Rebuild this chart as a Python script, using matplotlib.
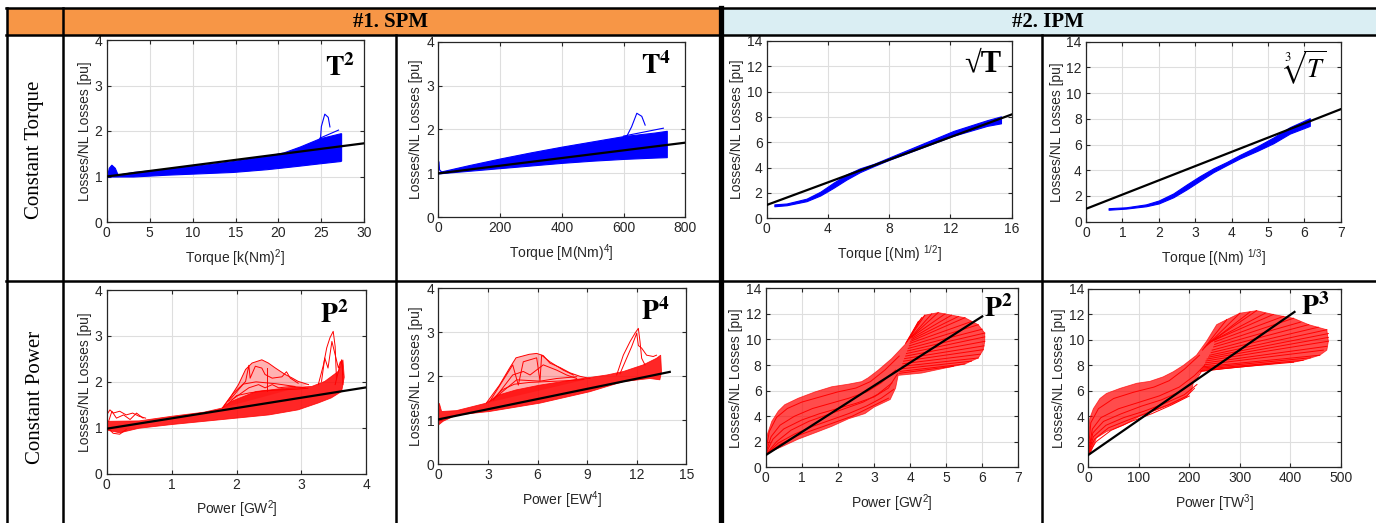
import numpy as np
import matplotlib
matplotlib.use('Agg')
import matplotlib.pyplot as plt
from matplotlib.patches import Rectangle

plt.rcParams['font.family'] = ['Liberation Sans', 'DejaVu Sans']
plt.rcParams['mathtext.fontset'] = 'custom'
plt.rcParams['mathtext.rm'] = 'Liberation Sans'
plt.rcParams['mathtext.it'] = 'Liberation Sans:italic'
plt.rcParams['mathtext.bf'] = 'Liberation Sans:bold'

# ---------------- data ----------------
# SPM, constant torque, T^2
t2_x = [0, 3.1, 7, 10.9, 14.7, 18.6, 20.6, 22.5, 24.8, 27.2, 27.3]
t2_lo = [1.0, 1.0, 1.04, 1.07, 1.1, 1.16, 1.2, 1.24, 1.29, 1.34, 1.35]
t2_hi = [1.0, 1.1, 1.17, 1.25, 1.34, 1.45, 1.53, 1.66, 1.84, 1.95, 1.95]
t2_bump_x = [0.1, 0.3, 0.6, 1.0, 1.4]
t2_bump_y = [1.0, 1.18, 1.25, 1.18, 1.0]
t2_peak_x = [24.9, 25.0, 25.4, 25.8, 26.0]
t2_peak_y = [1.84, 2.1, 2.37, 2.3, 2.09]
t2_tail_x = [24.8, 27.0]
t2_tail_y = [1.84, 2.02]
t2_fit_x = [0, 30]
t2_fit_y = [1.0, 1.73]

# SPM, constant torque, T^4
t4_x = [0, 100, 200, 300, 400, 500, 600, 700, 740]
t4_lo = [1.0, 1.06, 1.12, 1.18, 1.24, 1.29, 1.33, 1.36, 1.37]
t4_hi = [1.03, 1.19, 1.34, 1.48, 1.61, 1.73, 1.85, 1.93, 1.97]
t4_spike_x = [0, 1, 4, 10]
t4_spike_y = [1.0, 1.27, 1.08, 1.04]
t4_peak_x = [610, 626, 643, 659, 670]
t4_peak_y = [1.84, 2.06, 2.37, 2.3, 2.1]
t4_tail_x = [600, 729]
t4_tail_y = [1.85, 2.03]
t4_fit_x = [0, 800]
t4_fit_y = [1.0, 1.7]

# IPM, constant torque, sqrt(T)
sq_x = [0.5, 1.3, 2.6, 3.5, 4.35, 5.2, 6.1, 7.0, 8.0, 10.0, 12.2, 14.4, 15.3]
sq_lo = [0.95, 1.03, 1.35, 1.8, 2.4, 3.05, 3.65, 4.12, 4.62, 5.52, 6.52, 7.3, 7.5]
sq_hi = [1.1, 1.17, 1.55, 2.1, 2.8, 3.45, 3.95, 4.3, 4.8, 5.8, 6.9, 7.75, 8.05]
sq_fit_x = [0, 16]
sq_fit_y = [1.05, 8.2]

# IPM, constant torque, cbrt(T)
cb_x = [0.62, 1.1, 1.65, 2.0, 2.4, 2.77, 3.13, 3.5, 3.87, 4.23, 4.7, 5.15, 5.6, 6.15]
cb_lo = [0.93, 1.02, 1.2, 1.42, 1.9, 2.52, 3.18, 3.85, 4.4, 4.92, 5.5, 6.1, 6.85, 7.45]
cb_hi = [1.05, 1.12, 1.35, 1.65, 2.2, 2.9, 3.55, 4.15, 4.65, 5.2, 5.85, 6.55, 7.35, 8.05]
cb_fit_x = [0, 7]
cb_fit_y = [1.0, 8.75]

# SPM, constant power, P^2
p2s_up_x = [0, 0.5, 1.0, 1.5, 1.78, 1.93, 2.3, 2.8, 3.16, 3.36, 3.57, 3.64, 3.66]
p2s_up_y = [1.14, 1.15, 1.25, 1.34, 1.43, 1.58, 1.79, 1.87, 1.9, 2.01, 2.23, 2.48, 2.1]
p2s_lo_x = [0, 0.2, 0.5, 1.0, 1.5, 2.0, 2.5, 2.95, 3.26, 3.46, 3.62, 3.66]
p2s_lo_y = [0.95, 0.89, 0.99, 1.07, 1.14, 1.21, 1.28, 1.39, 1.54, 1.65, 1.79, 2.1]
p2s_line_x = [
    [1.78, 1.93, 2.03, 2.14, 2.24, 2.39, 2.49, 2.6, 2.75, 2.85, 2.95, 3.11],
    [1.88, 2.14, 2.19, 2.21, 2.29, 2.39, 2.44, 2.55, 2.7, 2.77, 2.83, 2.95],
    [1.93, 2.19, 2.34, 2.44, 2.55, 2.65, 2.85, 3.06],
    [1.85, 2.0, 2.2, 2.4, 2.6, 2.9, 3.1],
    [1.8, 1.95, 2.1, 2.3, 2.6, 2.9],
    [2.47, 2.47],
    [3.26, 3.34, 3.39, 3.44, 3.49, 3.52, 3.54],
    [3.31, 3.36, 3.41, 3.47, 3.52, 3.57, 3.6, 3.63, 3.64],
    [3.52, 3.57, 3.62, 3.64],
    [0, 0.05, 0.1, 0.2, 0.3, 0.4, 0.5, 0.6],
    [0.03, 0.08, 0.15, 0.26, 0.36, 0.46, 0.56],
    [0.05, 0.1, 0.2, 0.3],
]
p2s_line_y = [
    [1.43, 1.72, 1.94, 2.27, 2.41, 2.48, 2.41, 2.3, 2.16, 2.09, 2.01, 1.94],
    [1.58, 2.01, 2.36, 2.08, 2.34, 2.3, 2.16, 2.08, 2.11, 2.22, 2.08, 1.97],
    [1.61, 1.87, 1.94, 1.87, 1.94, 1.87, 1.9, 1.87],
    [1.5, 1.7, 1.76, 1.8, 1.82, 1.84, 1.86],
    [1.45, 1.75, 1.95, 2.0, 1.96, 1.9],
    [1.8, 2.3],
    [1.94, 2.37, 2.74, 2.96, 3.1, 2.77, 2.08],
    [2.01, 2.52, 2.3, 2.88, 2.59, 2.3, 2.44, 2.37, 1.94],
    [1.94, 2.23, 2.48, 2.16],
    [1.28, 1.39, 1.32, 1.36, 1.28, 1.32, 1.25, 1.21],
    [1.14, 1.36, 1.21, 1.28, 1.18, 1.32, 1.21],
    [0.95, 0.88, 0.86, 0.96],
]
p2s_fit_x = [0, 4]
p2s_fit_y = [0.98, 1.88]

# SPM, constant power, P^4
p4s_up_x = [0, 0.06, 0.2, 1.1, 2.9, 3.7, 4.7, 6.15, 8.2, 10.2, 11.2, 12.4, 13.2, 13.45, 13.5]
p4s_up_y = [0.9, 1.39, 1.2, 1.22, 1.39, 1.58, 1.69, 1.8, 1.92, 2.03, 2.11, 2.26, 2.41, 2.48, 2.1]
p4s_lo_x = [0, 0.3, 1.1, 3.1, 6.15, 9.17, 11.19, 12.8, 13.4, 13.5]
p4s_lo_y = [0.89, 0.98, 1.12, 1.2, 1.39, 1.65, 1.88, 1.95, 1.92, 2.1]
p4s_line_x = [
    [2.9, 3.7, 4.3, 4.7, 5.5, 5.95, 6.35, 6.75, 7.36, 7.96, 8.57, 9.17],
    [3.1, 4.5, 4.84, 5.14, 5.95, 6.15, 6.25, 6.75, 7.56, 8.17],
    [3.33, 4.5, 5.14, 5.55, 6.35, 7.16, 7.76, 8.37],
    [3.53, 4.74, 6.15, 7.16, 8.37],
    [3.2, 3.9, 4.6, 5.5, 6.6, 7.8, 8.8],
    [10.79, 11.19, 11.6, 11.9, 12.1, 12.2, 12.3, 12.5],
    [10.99, 11.39, 11.69, 12.0, 12.1, 12.3, 12.6, 13.0, 13.2],
]
p4s_line_y = [
    [1.39, 1.8, 2.18, 2.42, 2.5, 2.52, 2.47, 2.3, 2.2, 2.08, 2.0, 1.95],
    [1.42, 2.26, 1.8, 2.33, 2.42, 1.89, 2.48, 2.33, 2.14, 2.03],
    [1.46, 2.03, 2.11, 2.03, 2.26, 2.14, 2.03, 1.95],
    [1.54, 1.92, 1.89, 1.95, 1.99],
    [1.45, 1.7, 1.82, 1.86, 1.88, 1.9, 1.93],
    [2.03, 2.48, 2.79, 2.98, 3.09, 2.79, 2.41, 2.26],
    [2.06, 2.41, 2.67, 2.98, 2.7, 2.64, 2.48, 2.45, 2.48],
]
p4s_fit_x = [0, 14]
p4s_fit_y = [1.02, 2.1]

# IPM, constant power, P^2  (outline of the red family, inner curves, fan ends)
p2i_out_x = [0, 0, 0.17, 0.35, 0.53, 0.9, 1.37, 1.83, 2.29, 2.66, 2.84, 3.12, 3.49, 3.86, 4.04, 4.23,
             4.41, 4.78, 5.15, 5.52, 5.89, 6.07, 6.07, 6.03, 5.89, 5.52, 4.97, 4.32, 3.67,
             3.6, 3.45, 3.0, 2.75, 2.3, 1.83, 1.37, 0.9, 0.44, 0.03]
p2i_out_y = [1.0, 2.2, 3.6, 4.4, 4.9, 5.4, 5.9, 6.3, 6.5, 6.7, 7.0, 7.6, 8.5, 9.6, 10.4, 11.4,
             11.9, 12.1, 11.9, 11.7, 11.15, 10.5, 9.85, 9.2, 8.55, 8.08, 7.76, 7.37, 7.19,
             6.2, 5.3, 4.7, 4.2, 3.8, 3.2, 2.7, 2.2, 1.6, 1.1]
p2i_curve_x = [
    [0, 0.1, 0.3, 0.6, 1.0, 1.5, 2.0, 2.5, 2.9, 3.3, 3.7],
    [0, 0.15, 0.4, 0.8, 1.3, 1.8, 2.3, 2.8, 3.2, 3.6],
    [0, 0.2, 0.5, 1.0, 1.5, 2.0, 2.5, 3.0, 3.4, 3.65],
    [0, 0.3, 0.7, 1.2, 1.7, 2.2, 2.7, 3.1, 3.5],
    [0, 0.35, 0.8, 1.3, 1.8, 2.3, 2.8, 3.2, 3.55],
    [0, 0.4, 0.9, 1.4, 1.9, 2.4, 2.9, 3.4],
]
p2i_curve_y = [
    [1.2, 2.8, 3.9, 4.6, 5.1, 5.5, 5.9, 6.2, 6.7, 7.6, 8.7],
    [1.1, 2.4, 3.3, 4.0, 4.6, 5.0, 5.4, 5.9, 6.6, 7.6],
    [1.05, 2.2, 3.0, 3.7, 4.2, 4.6, 5.0, 5.5, 6.2, 7.3],
    [1.0, 2.0, 2.9, 3.6, 4.1, 4.6, 5.1, 5.7, 6.6],
    [1.0, 1.9, 2.6, 3.2, 3.7, 4.2, 4.8, 5.4, 6.1],
    [1.0, 1.8, 2.5, 3.0, 3.5, 4.0, 4.7, 5.4],
]
p2i_root_x = [3.88, 3.92, 3.96, 4.0, 4.02, 4.05, 4.05, 4.05, 4.02, 4.0, 3.98, 3.95, 3.93, 3.9,
              3.88, 3.85, 3.82, 3.8, 3.78, 3.75, 3.72, 3.7]
p2i_root_y = [9.7, 9.85, 10.0, 10.1, 10.15, 10.2, 10.1, 10.0, 9.85, 9.7, 9.5, 9.3, 9.1, 8.9,
              8.7, 8.5, 8.3, 8.1, 7.9, 7.7, 7.5, 7.35]
p2i_tip_x = [4.23, 4.32, 4.41, 4.6, 4.78, 4.97, 5.15, 5.34, 5.52, 5.7, 5.89, 6.0, 6.07, 6.07,
             6.07, 6.05, 6.03, 5.95, 5.89, 5.7, 5.52, 5.2]
p2i_tip_y = [11.4, 11.7, 11.9, 12.0, 12.1, 12.0, 11.9, 11.8, 11.7, 11.4, 11.15, 10.8, 10.5, 10.2,
             9.85, 9.5, 9.2, 8.85, 8.55, 8.3, 8.08, 7.9]
p2i_fit_x = [0, 6]
p2i_fit_y = [0.95, 11.8]

# IPM, constant power, P^3
p3i_out_x = [0, 0, 3, 10, 23, 36, 63, 96, 122, 148, 168, 188, 214, 234, 254, 274, 300, 333,
             366, 406, 436, 472, 475, 472, 458, 425, 406, 366, 300, 247, 221,
             208, 205, 195, 168, 135, 102, 69, 36, 16, 3]
p3i_out_y = [1.0, 2.5, 3.85, 4.6, 5.4, 5.8, 6.2, 6.6, 6.75, 7.1, 7.5, 8.0, 8.8, 9.9, 11.2, 11.6, 12.1, 12.3,
             12.0, 11.7, 11.2, 10.8, 9.9, 9.2, 8.8, 8.4, 8.25, 8.17, 7.9, 7.64, 7.5,
             6.7, 6.1, 5.55, 5.0, 4.5, 4.0, 3.3, 2.8, 2.3, 1.0]
p3i_curve_x = [
    [0, 5, 20, 50, 90, 130, 160, 190, 220],
    [0, 8, 25, 60, 100, 140, 180, 210, 230],
    [0, 9, 30, 65, 105, 145, 185, 212, 225],
    [0, 10, 35, 70, 110, 150, 190, 215],
    [0, 12, 40, 78, 118, 158, 195, 210],
    [0, 15, 45, 85, 125, 165, 200],
]
p3i_curve_y = [
    [1.3, 3.5, 4.6, 5.4, 5.9, 6.3, 6.8, 7.7, 8.8],
    [1.1, 3.0, 3.9, 4.6, 5.1, 5.6, 6.3, 7.2, 8.0],
    [1.05, 2.7, 3.6, 4.2, 4.8, 5.3, 6.0, 6.8, 7.6],
    [1.0, 2.4, 3.3, 3.9, 4.4, 5.0, 5.7, 6.5],
    [1.0, 2.2, 3.1, 3.7, 4.3, 4.9, 5.6, 6.2],
    [1.0, 2.0, 2.9, 3.6, 4.2, 4.9, 5.6],
]
p3i_root_x = [226, 230, 235, 240, 245, 250, 250, 250, 248, 245, 243, 240, 238, 235, 233, 232,
              230, 228, 226, 225, 223, 222]
p3i_root_y = [9.2, 9.4, 9.6, 9.8, 9.9, 10.0, 9.85, 9.65, 9.45, 9.2, 9.0, 8.8, 8.65, 8.5, 8.35, 8.2,
              8.05, 7.9, 7.8, 7.7, 7.6, 7.55]
p3i_tip_x = [274, 300, 320, 333, 350, 366, 386, 406, 420, 436, 455, 472, 475, 475, 475, 472,
             465, 458, 440, 425, 406, 380]
p3i_tip_y = [11.6, 12.1, 12.2, 12.3, 12.1, 12.0, 11.85, 11.7, 11.4, 11.2, 11.0, 10.8, 10.5, 10.2,
             9.9, 9.5, 9.2, 8.8, 8.6, 8.4, 8.25, 8.2]
p3i_fit_x = [0, 408]
p3i_fit_y = [0.97, 12.2]

W, H = 1376, 523
TXT = '#262626'
BLUE = '#0000ff'
RED = '#ff0000'

fig = plt.figure(figsize=(W / 100, H / 100), dpi=100)


def px_axes(left, top, right, bottom):
    return fig.add_axes([left / W, 1 - bottom / H, (right - left) / W, (bottom - top) / H])


def setup(ax, xlim, xticks, ylim, yticks, xlabel):
    ax.set_xlim(xlim)
    ax.set_ylim(ylim)
    ax.set_xticks(xticks)
    ax.set_yticks(yticks)
    ax.grid(True, color='#dedede', linewidth=0.8)
    ax.set_axisbelow(True)
    ax.tick_params(direction='in', length=3, width=0.8, labelsize=10, colors=TXT, pad=3,
                   top=True, right=True)
    for s in ax.spines.values():
        s.set_color(TXT)
        s.set_linewidth(0.9)
    ax.set_xlabel(xlabel, fontsize=10, color=TXT, labelpad=5)
    ax.set_ylabel('Losses/NL Losses [pu]', fontsize=10, color=TXT, labelpad=2)


def tag(ax, xf, yf, s, size=20, mathfont='stix'):
    ax.text(xf, yf, s, transform=ax.transAxes, ha='right', va='center', fontsize=size,
            fontweight='bold', family=['Liberation Serif', 'DejaVu Serif'],
            math_fontfamily=mathfont, color='black')


def fit_line(ax, x, y):
    ax.plot(x, y, color='black', lw=1.6, zorder=5)


def red_family(ax, out_x, out_y, curves_x, curves_y, root_x, root_y, tip_x, tip_y):
    ax.fill(out_x, out_y, color=RED, alpha=0.7, lw=0.6)
    for xs, ys in zip(curves_x, curves_y):
        ax.plot(xs, ys, color=RED, lw=0.7)
    for x0, y0, x1, y1 in zip(root_x, root_y, tip_x, tip_y):
        ax.plot([x0, x1], [y0, y1], color=RED, lw=0.7)


# ---- row 1 ----
ax = px_axes(106.7, 40, 364.3, 222)
ax.fill_between(t2_x, t2_lo, t2_hi, color=BLUE, lw=0.8)
ax.fill(t2_bump_x, t2_bump_y, color=BLUE, lw=0.8)
ax.plot(t2_peak_x, t2_peak_y, color=BLUE, lw=0.8)
ax.plot(t2_tail_x, t2_tail_y, color=BLUE, lw=0.8)
fit_line(ax, t2_fit_x, t2_fit_y)
setup(ax, (0, 30), range(0, 31, 5), (0, 4), range(5), r'Torque [k(Nm)$^2$]')
tag(ax, 0.965, 0.846, r'$\mathbf{T^2}$')

ax = px_axes(438.3, 41.7, 685.3, 217.3)
ax.fill_between(t4_x, t4_lo, t4_hi, color=BLUE, lw=0.8)
ax.plot(t4_spike_x, t4_spike_y, color=BLUE, lw=0.9)
ax.plot(t4_peak_x, t4_peak_y, color=BLUE, lw=0.8)
ax.plot(t4_tail_x, t4_tail_y, color=BLUE, lw=0.8)
fit_line(ax, t4_fit_x, t4_fit_y)
setup(ax, (0, 800), range(0, 801, 200), (0, 4), range(5), r'Torque [M(Nm)$^4$]')
tag(ax, 0.943, 0.862, r'$\mathbf{T^4}$')

ax = px_axes(766.7, 41, 1011.7, 218.3)
ax.fill_between(sq_x, sq_lo, sq_hi, color=BLUE, lw=0.8)
fit_line(ax, sq_fit_x, sq_fit_y)
setup(ax, (0, 16), range(0, 17, 4), (0, 14), range(0, 15, 2), r'Torque [(Nm) $^{1/2}$]')
tag(ax, 0.959, 0.87, '\u221aT', size=22)

ax = px_axes(1086, 41.7, 1340.7, 221.7)
ax.fill_between(cb_x, cb_lo, cb_hi, color=BLUE, lw=0.8)
fit_line(ax, cb_fit_x, cb_fit_y)
setup(ax, (0, 7), range(8), (0, 14), range(0, 15, 2), r'Torque [(Nm) $^{1/3}$]')
tag(ax, 0.944, 0.854, r'$\sqrt[3]{T}$', size=19)

# ---- row 2 ----
ax = px_axes(106.7, 290, 366.3, 473.7)
ax.fill(p2s_up_x + p2s_lo_x[::-1], p2s_up_y + p2s_lo_y[::-1], color=RED, alpha=0.85, lw=0.6)
ax.fill(p2s_line_x[0], p2s_line_y[0], color=RED, alpha=0.3, lw=0)
for xs, ys in zip(p2s_line_x, p2s_line_y):
    ax.plot(xs, ys, color=RED, lw=0.7)
fit_line(ax, p2s_fit_x, p2s_fit_y)
setup(ax, (0, 4), range(5), (0, 4), range(5), r'Power [GW$^2$]')
tag(ax, 0.931, 0.864, r'$\mathbf{P^2}$')

ax = px_axes(438.3, 288.3, 686.3, 464.3)
ax.fill(p4s_up_x + p4s_lo_x[::-1], p4s_up_y + p4s_lo_y[::-1], color=RED, alpha=0.85, lw=0.6)
ax.fill(p4s_line_x[0], p4s_line_y[0], color=RED, alpha=0.3, lw=0)
for xs, ys in zip(p4s_line_x, p4s_line_y):
    ax.plot(xs, ys, color=RED, lw=0.7)
fit_line(ax, p4s_fit_x, p4s_fit_y)
setup(ax, (0, 15), range(0, 16, 3), (0, 4), range(5), r'Power [EW$^4$]')
tag(ax, 0.934, 0.867, r'$\mathbf{P^4}$')

ax = px_axes(765.7, 288.3, 1018.3, 467.3)
red_family(ax, p2i_out_x, p2i_out_y, p2i_curve_x, p2i_curve_y,
           p2i_root_x, p2i_root_y, p2i_tip_x, p2i_tip_y)
fit_line(ax, p2i_fit_x, p2i_fit_y)
setup(ax, (0, 7), range(8), (0, 14), range(0, 15, 2), r'Power [GW$^2$]')
tag(ax, 0.978, 0.884, r'$\mathbf{P^2}$')

ax = px_axes(1088.3, 289, 1341, 467.3)
red_family(ax, p3i_out_x, p3i_out_y, p3i_curve_x, p3i_curve_y,
           p3i_root_x, p3i_root_y, p3i_tip_x, p3i_tip_y)
fit_line(ax, p3i_fit_x, p3i_fit_y)
setup(ax, (0, 500), range(0, 501, 100), (0, 14), range(0, 15, 2), r'Power [TW$^3$]')
tag(ax, 0.954, 0.896, r'$\mathbf{P^3}$')

# ---- table frame drawn on top, in pixel units ----
tab = fig.add_axes([0, 0, 1, 1], zorder=10)
tab.set_xlim(0, W)
tab.set_ylim(H, 0)
tab.axis('off')
tab.patch.set_alpha(0)

tab.add_patch(Rectangle((7, 8), 712, 27, facecolor='#f79646', edgecolor='none'))
tab.add_patch(Rectangle((723, 8), 653, 27, facecolor='#daeef3', edgecolor='none'))

lw_thin = 1.8
tab.plot([6, W], [8, 8], color='black', lw=lw_thin)
tab.plot([6, W], [35, 35], color='black', lw=lw_thin)
tab.plot([6, W], [281, 281], color='black', lw=lw_thin)
tab.plot([7, 7], [8, H], color='black', lw=lw_thin)
tab.plot([63, 63], [8, H], color='black', lw=lw_thin)
tab.plot([396, 396], [35, H], color='black', lw=lw_thin)
tab.plot([1042, 1042], [35, H], color='black', lw=lw_thin)
tab.plot([721, 721], [8, H], color='black', lw=3.8)

hdr = dict(ha='center', va='center', fontsize=15, fontweight='bold', family='Liberation Serif')
tab.text(391, 22, '#1. SPM', **hdr)
tab.text(1048, 22, '#2. IPM', **hdr)
row = dict(ha='center', va='center', fontsize=15, rotation=90, family='Liberation Serif')
tab.text(35, 150, 'Constant Torque', **row)
tab.text(35, 397, 'Constant Power', **row)

fig.savefig('out.png', dpi=100)
